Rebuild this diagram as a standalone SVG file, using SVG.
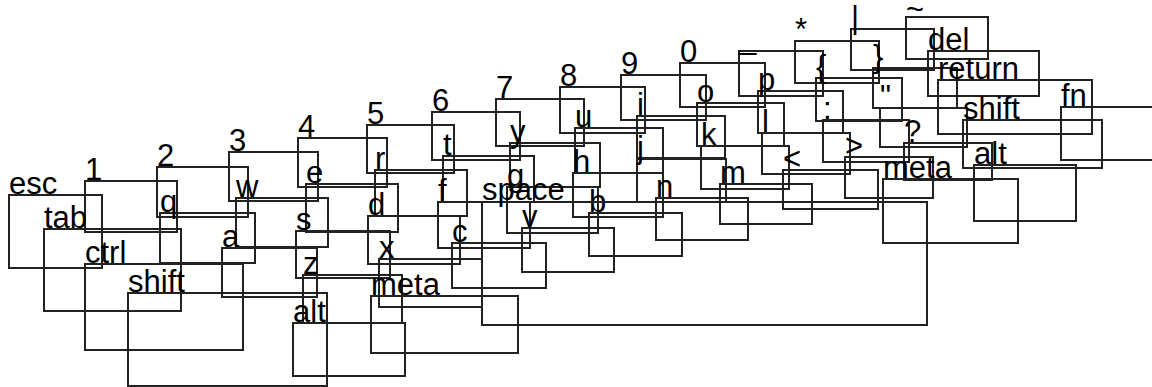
<svg xmlns="http://www.w3.org/2000/svg" width="1152" height="387" viewBox="0 0 1152 387">
  <style>
    .key rect { fill: none; stroke: #222; stroke-width: 2; }
    .key text { font-family: "Liberation Sans", Arial, sans-serif; font-size: 31px; fill: #000; }
  </style>
  <rect width="1152" height="387" fill="#fff"/>

  <!-- number row -->
  <g id="key-esc" class="key"><rect x="9" y="195" width="93" height="73"/><text x="9" y="194">esc</text></g>
  <g id="key-1" class="key"><rect x="85" y="181" width="92" height="51"/><text x="85" y="180">1</text></g>
  <g id="key-2" class="key"><rect x="157" y="167" width="91" height="50"/><text x="157" y="166">2</text></g>
  <g id="key-3" class="key"><rect x="229" y="152" width="89" height="49"/><text x="229" y="151">3</text></g>
  <g id="key-4" class="key"><rect x="298" y="138" width="89" height="49"/><text x="298" y="137">4</text></g>
  <g id="key-5" class="key"><rect x="367" y="125" width="87" height="48"/><text x="367" y="124">5</text></g>
  <g id="key-6" class="key"><rect x="432" y="112" width="88" height="48"/><text x="432" y="111">6</text></g>
  <g id="key-7" class="key"><rect x="496" y="99" width="88" height="47"/><text x="496" y="98">7</text></g>
  <g id="key-8" class="key"><rect x="560" y="87" width="85" height="46"/><text x="560" y="86">8</text></g>
  <g id="key-9" class="key"><rect x="621" y="75" width="85" height="45"/><text x="621" y="74">9</text></g>
  <g id="key-0" class="key"><rect x="680" y="63" width="85" height="44"/><text x="680" y="62">0</text></g>
  <g id="key-underscore" class="key"><rect x="739" y="51" width="84" height="45"/><text x="739" y="49">_</text></g>
  <g id="key-asterisk" class="key"><rect x="795" y="41" width="84" height="42"/><text x="795" y="40">*</text></g>
  <g id="key-pipe" class="key"><rect x="851" y="29" width="83" height="41"/><text x="851" y="28">|</text></g>
  <g id="key-tilde" class="key"><rect x="906" y="17" width="82" height="42"/><text x="906" y="20">~</text></g>

  <!-- top letter row -->
  <g id="key-tab" class="key"><rect x="44" y="229" width="137" height="82"/><text x="44" y="228">tab</text></g>
  <g id="key-q" class="key"><rect x="160" y="213" width="95" height="50"/><text x="160" y="212">q</text></g>
  <g id="key-w" class="key"><rect x="236" y="198" width="92" height="49"/><text x="236" y="197">w</text></g>
  <g id="key-e" class="key"><rect x="306" y="184" width="92" height="48"/><text x="306" y="183">e</text></g>
  <g id="key-r" class="key"><rect x="375" y="170" width="92" height="46"/><text x="375" y="169">r</text></g>
  <g id="key-t" class="key"><rect x="443" y="156" width="91" height="46"/><text x="443" y="155">t</text></g>
  <g id="key-y" class="key"><rect x="510" y="143" width="90" height="44"/><text x="510" y="142">y</text></g>
  <g id="key-u" class="key"><rect x="575" y="128" width="88" height="45"/><text x="575" y="127">u</text></g>
  <g id="key-i" class="key"><rect x="637" y="116" width="88" height="42"/><text x="637" y="115">i</text></g>
  <g id="key-o" class="key"><rect x="697" y="103" width="87" height="43"/><text x="697" y="102">o</text></g>
  <g id="key-p" class="key"><rect x="758" y="91" width="85" height="42"/><text x="758" y="90">p</text></g>
  <g id="key-lbrace" class="key"><rect x="816" y="78" width="86" height="43"/><text x="816" y="77">{</text></g>
  <g id="key-rbrace" class="key"><rect x="873" y="68" width="84" height="40"/><text x="873" y="67">}</text></g>
  <g id="key-del" class="key"><rect x="928" y="51" width="111" height="45"/><text x="928" y="50">del</text></g>

  <!-- home row -->
  <g id="key-ctrl" class="key"><rect x="85" y="264" width="158" height="86"/><text x="85" y="263">ctrl</text></g>
  <g id="key-a" class="key"><rect x="222" y="248" width="95" height="49"/><text x="222" y="247">a</text></g>
  <g id="key-s" class="key"><rect x="296" y="231" width="94" height="47"/><text x="296" y="230">s</text></g>
  <g id="key-d" class="key"><rect x="368" y="216" width="92" height="48"/><text x="368" y="215">d</text></g>
  <g id="key-f" class="key"><rect x="438" y="202" width="92" height="46"/><text x="438" y="201">f</text></g>
  <g id="key-g" class="key"><rect x="507" y="187" width="91" height="46"/><text x="507" y="186">g</text></g>
  <g id="key-h" class="key"><rect x="573" y="173" width="90" height="44"/><text x="573" y="172">h</text></g>
  <g id="key-j" class="key"><rect x="637" y="159" width="89" height="43"/><text x="637" y="158">j</text></g>
  <g id="key-k" class="key"><rect x="701" y="146" width="88" height="43"/><text x="701" y="145">k</text></g>
  <g id="key-l" class="key"><rect x="762" y="133" width="88" height="41"/><text x="762" y="132">l</text></g>
  <g id="key-colon" class="key"><rect x="823" y="120" width="86" height="42"/><text x="823" y="119">:</text></g>
  <g id="key-quote" class="key"><rect x="880" y="108" width="87" height="39"/><text x="880" y="107">"</text></g>
  <g id="key-return" class="key"><rect x="938" y="80" width="154" height="54"/><text x="938" y="79">return</text></g>

  <!-- bottom letter row -->
  <g id="key-shift-left" class="key"><rect x="128" y="293" width="199" height="93"/><text x="128" y="292">shift</text></g>
  <g id="key-z" class="key"><rect x="303" y="275" width="99" height="48"/><text x="303" y="274">z</text></g>
  <g id="key-x" class="key"><rect x="379" y="259" width="103" height="48"/><text x="379" y="258">x</text></g>
  <g id="key-c" class="key"><rect x="452" y="243" width="94" height="45"/><text x="452" y="242">c</text></g>
  <g id="key-v" class="key"><rect x="522" y="228" width="92" height="44"/><text x="522" y="227">v</text></g>
  <g id="key-b" class="key"><rect x="589" y="213" width="93" height="43"/><text x="589" y="212">b</text></g>
  <g id="key-n" class="key"><rect x="656" y="198" width="92" height="42"/><text x="656" y="197">n</text></g>
  <g id="key-m" class="key"><rect x="720" y="184" width="92" height="40"/><text x="720" y="183">m</text></g>
  <g id="key-lt" class="key"><rect x="783" y="170" width="95" height="39"/><text x="783" y="169">&lt;</text></g>
  <g id="key-gt" class="key"><rect x="845" y="157" width="88" height="41"/><text x="845" y="156">&gt;</text></g>
  <g id="key-question" class="key"><rect x="904" y="143" width="88" height="37"/><text x="904" y="142">?</text></g>
  <g id="key-shift-right" class="key"><rect x="963" y="120" width="139" height="48"/><text x="963" y="119">shift</text></g>
  <g id="key-fn" class="key"><rect x="1061" y="107" width="110" height="53"/><text x="1061" y="106">fn</text></g>

  <!-- modifier row -->
  <g id="key-alt-left" class="key"><rect x="293" y="323" width="112" height="53"/><text x="293" y="322">alt</text></g>
  <g id="key-meta-left" class="key"><rect x="371" y="296" width="147" height="57"/><text x="371" y="295">meta</text></g>
  <g id="key-space" class="key"><rect x="482" y="202" width="445" height="123"/><text x="482" y="200">space</text></g>
  <g id="key-meta-right" class="key"><rect x="883" y="179" width="135" height="64"/><text x="883" y="178">meta</text></g>
  <g id="key-alt-right" class="key"><rect x="974" y="165" width="102" height="56"/><text x="974" y="164">alt</text></g>
</svg>
